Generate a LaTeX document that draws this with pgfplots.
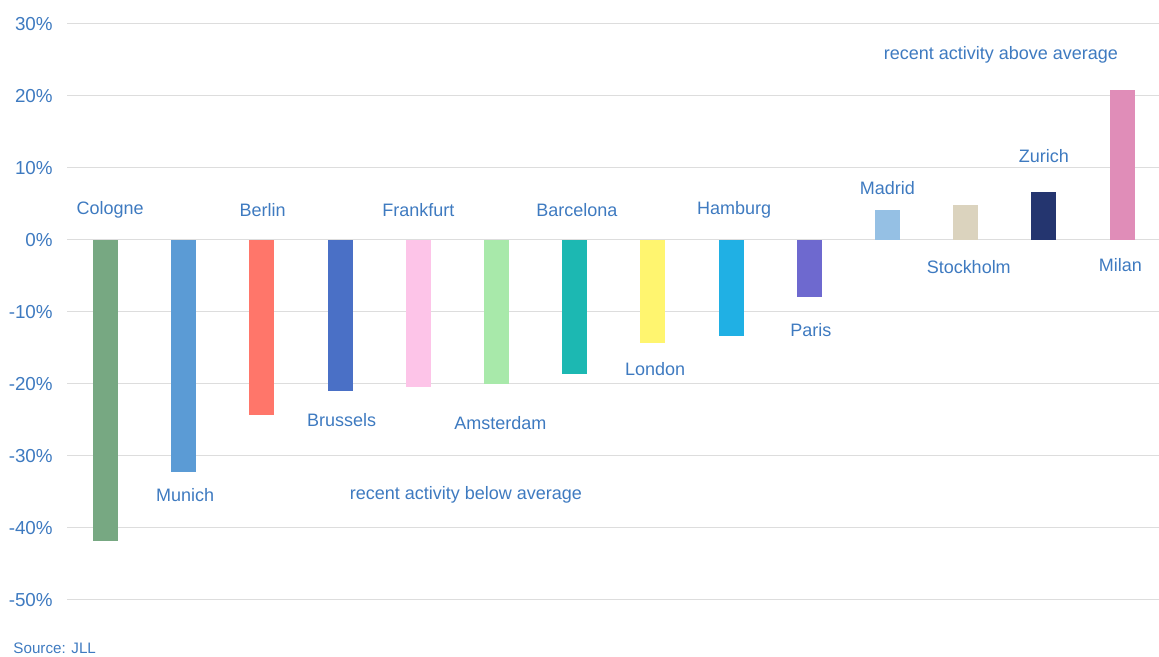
\documentclass[border=0pt]{standalone}
\usepackage{pgfplots}
\pgfplotsset{compat=1.18}
\usepackage{fontspec}
\setmainfont{Liberation Sans}

\definecolor{txt}{RGB}{62,122,192}
\definecolor{gridc}{RGB}{221,221,221}
\definecolor{cCologne}{HTML}{77A882}
\definecolor{cMunich}{HTML}{5B9BD5}
\definecolor{cBerlin}{HTML}{FF766A}
\definecolor{cBrussels}{HTML}{4A70C6}
\definecolor{cFrankfurt}{HTML}{FDC4E8}
\definecolor{cAmsterdam}{HTML}{A8E9AA}
\definecolor{cBarcelona}{HTML}{1CB8B2}
\definecolor{cLondon}{HTML}{FFF56F}
\definecolor{cHamburg}{HTML}{20B0E4}
\definecolor{cParis}{HTML}{6E69CF}
\definecolor{cMadrid}{HTML}{95C0E4}
\definecolor{cStockholm}{HTML}{DBD3BE}
\definecolor{cZurich}{HTML}{24356F}
\definecolor{cMilan}{HTML}{E08DB8}

\begin{document}
\begin{tikzpicture}
\begin{axis}[
    scale only axis,
    width=546pt, height=288pt,
    xmin=-0.492, xmax=13.467,
    ymin=-50, ymax=30,
    ytick={-50,-40,...,30},
    xtick=\empty,
    yticklabel={\pgfmathprintnumber{\tick}\%},
    /pgf/number format/assume math mode=true,
    yticklabel style={anchor=east, inner sep=0pt, xshift=-7pt, text=txt, font=\fontsize{9.4}{10}\selectfont},
    ymajorgrids=true,
    grid style={gridc, line width=0.5pt},
    major tick length=0pt,
    axis line style={draw=none},
    clip=false,
]
% invisible frame fixing the picture extent
\path (axis cs:-1.349,-57.92) rectangle (axis cs:13.467,33.33);

\addplot[ybar, bar shift=0pt, bar width=12.5pt, draw=none, fill=cCologne]   coordinates {(0,-41.8)};
\addplot[ybar, bar shift=0pt, bar width=12.5pt, draw=none, fill=cMunich]    coordinates {(1,-32.2)};
\addplot[ybar, bar shift=0pt, bar width=12.5pt, draw=none, fill=cBerlin]    coordinates {(2,-24.3)};
\addplot[ybar, bar shift=0pt, bar width=12.5pt, draw=none, fill=cBrussels]  coordinates {(3,-21.0)};
\addplot[ybar, bar shift=0pt, bar width=12.5pt, draw=none, fill=cFrankfurt] coordinates {(4,-20.5)};
\addplot[ybar, bar shift=0pt, bar width=12.5pt, draw=none, fill=cAmsterdam] coordinates {(5,-20.0)};
\addplot[ybar, bar shift=0pt, bar width=12.5pt, draw=none, fill=cBarcelona] coordinates {(6,-18.7)};
\addplot[ybar, bar shift=0pt, bar width=12.5pt, draw=none, fill=cLondon]    coordinates {(7,-14.3)};
\addplot[ybar, bar shift=0pt, bar width=12.5pt, draw=none, fill=cHamburg]   coordinates {(8,-13.4)};
\addplot[ybar, bar shift=0pt, bar width=12.5pt, draw=none, fill=cParis]     coordinates {(9,-7.9)};
\addplot[ybar, bar shift=0pt, bar width=12.5pt, draw=none, fill=cMadrid]    coordinates {(10,4.2)};
\addplot[ybar, bar shift=0pt, bar width=12.5pt, draw=none, fill=cStockholm] coordinates {(11,4.8)};
\addplot[ybar, bar shift=0pt, bar width=12.5pt, draw=none, fill=cZurich]    coordinates {(12,6.7)};
\addplot[ybar, bar shift=0pt, bar width=12.5pt, draw=none, fill=cMilan]     coordinates {(13,20.8)};

% city labels
\begin{scope}[every node/.style={text=txt, font=\fontsize{9}{10}\selectfont, inner sep=0pt}]
\node at (axis cs:0.06,4.2)   {Cologne};
\node at (axis cs:1.02,-35.5) {Munich};
\node at (axis cs:2.01,4.2)   {Berlin};
\node at (axis cs:3.02,-25.1) {Brussels};
\node at (axis cs:4.0,4.2)    {Frankfurt};
\node at (axis cs:5.05,-25.4) {Amsterdam};
\node at (axis cs:6.03,4.2)   {Barcelona};
\node at (axis cs:7.03,-17.9) {London};
\node at (axis cs:8.04,4.2)   {Hamburg};
\node at (axis cs:9.02,-12.5) {Paris};
\node at (axis cs:10.0,7.2)   {Madrid};
\node at (axis cs:11.04,-3.75){Stockholm};
\node at (axis cs:12.0,11.7)  {Zurich};
\node at (axis cs:12.98,-3.5) {Milan};
\node at (axis cs:4.61,-35.4) {recent activity below average};
\node at (axis cs:11.45,25.7) {recent activity above average};
\node[anchor=west, font=\fontsize{7.6}{9}\selectfont] at (axis cs:-1.182,-56.7) {Source: JLL};
\end{scope}
\end{axis}
\end{tikzpicture}
\end{document}
